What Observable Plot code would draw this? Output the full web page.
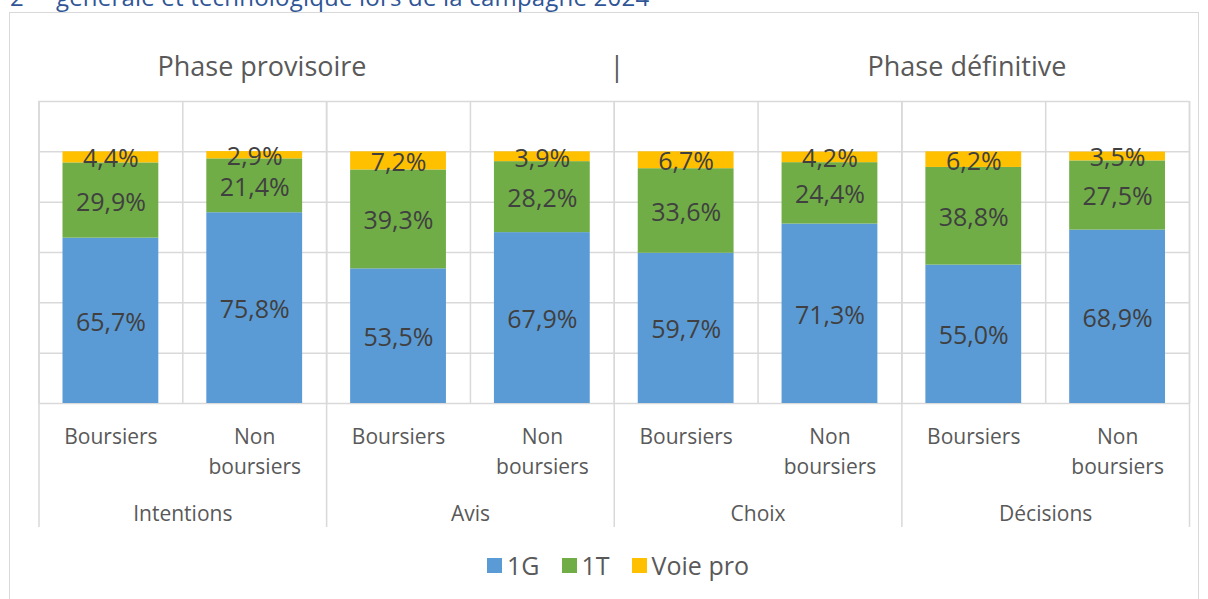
<!DOCTYPE html>
<html><head><meta charset="utf-8">
<script src="https://cdn.jsdelivr.net/npm/d3@7"></script>
<script src="https://cdn.jsdelivr.net/npm/@observablehq/plot@0.6"></script>
<style>
body{margin:0;width:1208px;height:599px;overflow:hidden;background:#fff;font-family:"Open Sans",sans-serif;position:relative}
#title{position:absolute;left:10px;top:-22px;color:#2F5597;font-size:24px;line-height:24px;white-space:nowrap;letter-spacing:0.2px}
#title sup{font-size:18px;margin-right:4px}
#frame{position:absolute;left:9px;top:12px;width:1190px;height:620px;border:1.5px solid #d9d9d9;box-sizing:border-box}
.phase{position:absolute;top:48px;font-size:27px;line-height:36px;color:#595959;transform:translateX(-50%);white-space:nowrap}
#chart{position:absolute;left:0;top:90px}
#legend{position:absolute;top:550px;left:0;width:1236px;display:flex;justify-content:center;gap:22px;font-size:25px;color:#595959;line-height:30px}
#legend .item{display:flex;align-items:center;gap:5px}
#legend .sw{width:15px;height:15px;display:inline-block}
</style></head>
<body>
<div id="title">2<sup>de</sup> générale et technologique lors de la campagne 2024</div>
<div id="frame"></div>
<div id="phases"></div>
<div id="chart"></div>
<div id="legend"></div>
<script>
const groups = ["Intentions", "Avis", "Choix", "Décisions"];
const statuses = ["Boursiers", "Non boursiers"];
const phases = ["Phase provisoire", "|", "Phase définitive"];
const series = ["1G", "1T", "Voie pro"];
const colors = ["#5B9BD5", "#70AD47", "#FFC000"];
const val1G  = [65.7, 75.8, 53.5, 67.9, 59.7, 71.3, 55.0, 68.9];
const val1T  = [29.9, 21.4, 39.3, 28.2, 33.6, 24.4, 38.8, 27.5];
const valPro = [4.4, 2.9, 7.2, 3.9, 6.7, 4.2, 6.2, 3.5];
const yTicks = [0, 20, 40, 60, 80, 100, 120];

const seriesValues = [val1G, val1T, valPro];
const cats = [];
groups.forEach((g, gi) => statuses.forEach((s, si) => cats.push({i: gi * statuses.length + si, group: g, status: s})));
const rows = [];
cats.forEach(c => {
  let acc = 0;
  series.forEach((s, k) => {
    const v = seriesValues[k][c.i];
    rows.push({i: c.i, series: s, value: v, y1: acc, y2: acc + v, mid: acc + v / 2});
    acc += v;
  });
});
const fmt = v => d3.format(".1f")(v).replace(".", ",") + "%";
const grid = "#d9d9d9";
const txt = "#595959";

const plot = Plot.plot({
  width: 1208,
  height: 445,
  marginTop: 11,
  marginBottom: 132,
  marginLeft: 38.5,
  marginRight: 19,
  style: {fontFamily: "'Open Sans', sans-serif", background: "transparent"},
  x: {domain: [0, cats.length], axis: null},
  y: {domain: [0, d3.max(yTicks)], axis: null},
  color: {domain: series, range: colors},
  marks: [
    Plot.ruleY(yTicks, {y: d => d, stroke: grid, strokeWidth: 1.5}),
    Plot.ruleX(d3.range(cats.length + 1), {x: d => d, stroke: grid, strokeWidth: 1.5}),
    Plot.ruleX(d3.range(0, cats.length + 1, statuses.length), {x: d => d, stroke: grid, strokeWidth: 1.5, insetBottom: -124}),
    Plot.rect(rows, {x1: d => d.i, x2: d => d.i + 1, y1: "y1", y2: "y2", fill: "series", insetLeft: 24, insetRight: 24}),
    Plot.text(rows, {x: d => d.i + 0.5, y: "mid", text: d => fmt(d.value), fill: "#404040", fontSize: 25, dy: 2}),
    Plot.text(cats, {x: d => d.i + 0.5, text: d => d.status.replace(" ", "\n"), frameAnchor: "bottom", lineAnchor: "top", dy: 19, lineHeight: 1.43, fontSize: 21, fill: txt}),
    Plot.text(groups, {x: (d, j) => j * statuses.length + statuses.length / 2, text: d => d, frameAnchor: "bottom", lineAnchor: "top", dy: 103, fontSize: 21, fill: txt})
  ]
});
document.getElementById("chart").appendChild(plot);

const phaseX = [262, 617, 967];
const ph = document.getElementById("phases");
phases.forEach((p, j) => {
  const s = document.createElement("div");
  s.className = "phase";
  s.style.left = phaseX[j] + "px";
  s.textContent = p;
  ph.appendChild(s);
});
const lg = document.getElementById("legend");
series.forEach((s, k) => {
  const it = document.createElement("div");
  it.className = "item";
  it.innerHTML = `<span class="sw" style="background:${colors[k]}"></span><span>${s}</span>`;
  lg.appendChild(it);
});
</script>
</body></html>
